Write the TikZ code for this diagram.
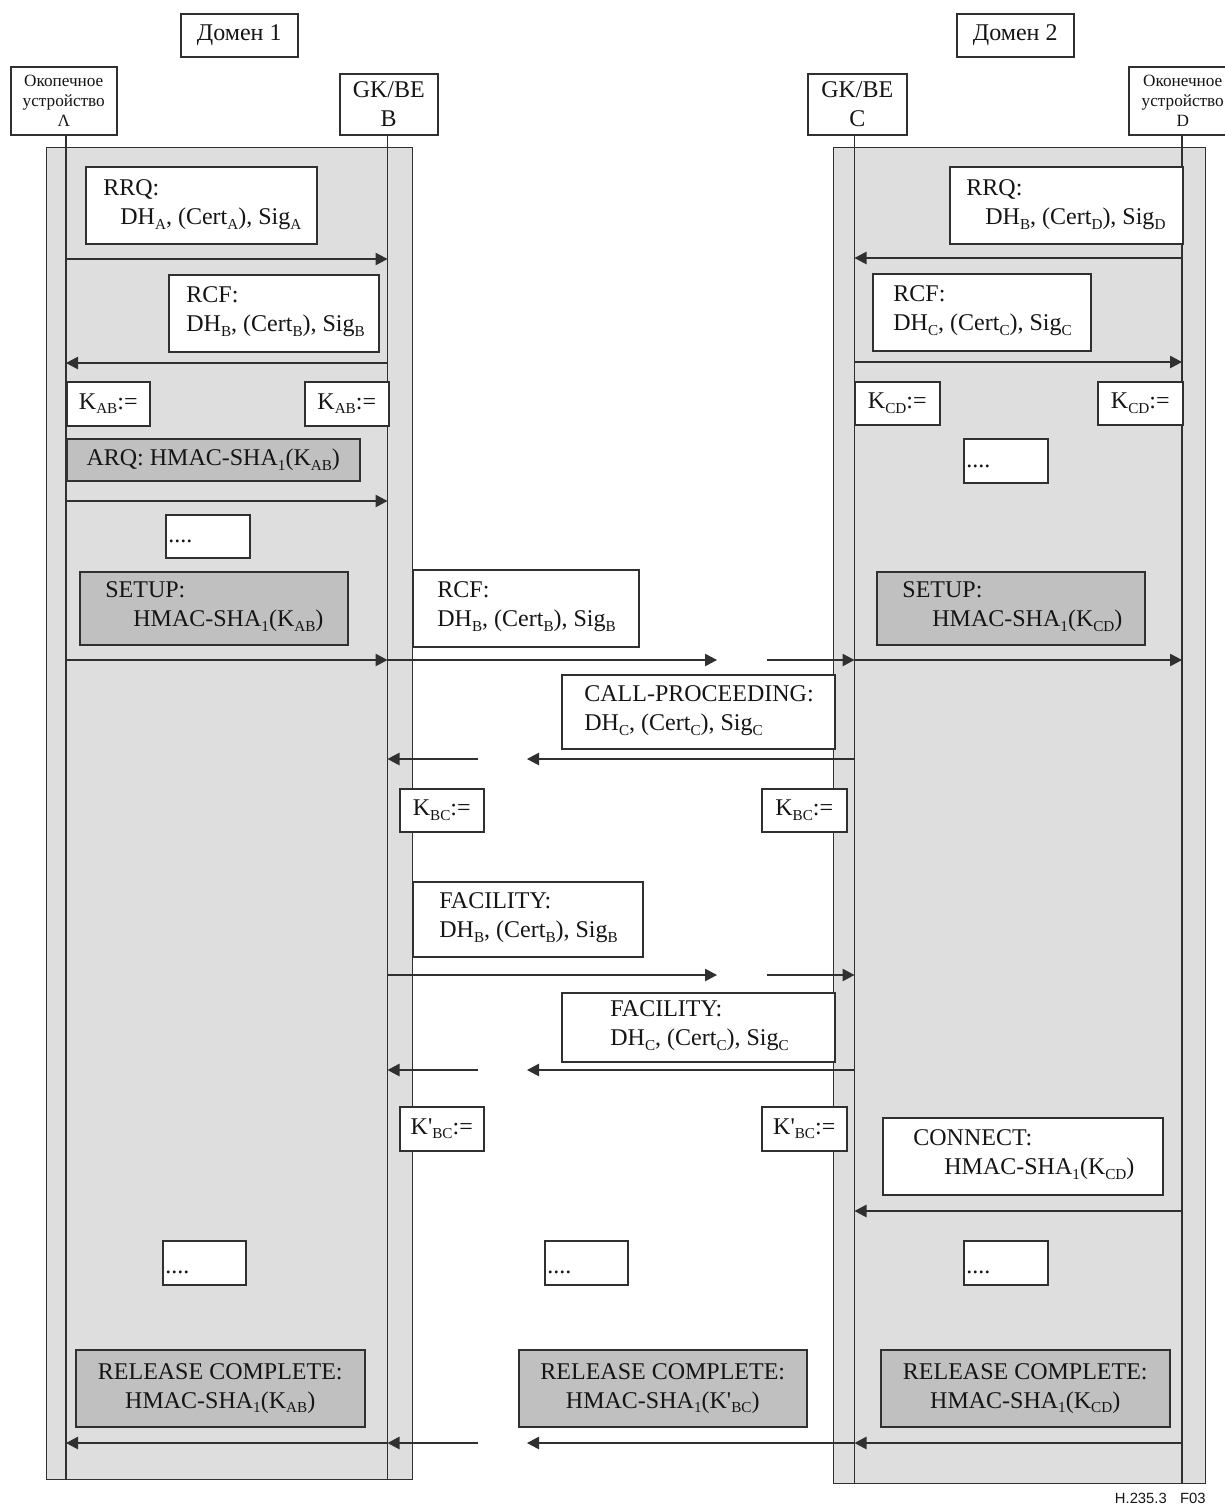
\documentclass[tikz,border=0pt]{standalone}
\usepackage{fontspec}
\setmainfont{Liberation Serif}
\newfontfamily\footsans{Liberation Sans}
\usetikzlibrary{arrows.meta}
\definecolor{panelgray}{HTML}{DEDEDE}
\definecolor{boxgray}{HTML}{C0C0C0}
\definecolor{linec}{HTML}{303030}
\definecolor{txtc}{HTML}{151515}
\newcommand\sbs[1]{\raisebox{-2.4pt}{\fontsize{7.6}{8}\selectfont #1}}
\newcommand\msgfont{\fontsize{12}{14.5}\selectfont}
\newcommand\hdrfont{\fontsize{8.6}{10.2}\selectfont}
\newcommand\bxn[7]{%
  \pgfmathsetmacro\bxw{(#5-#3)*0.5}\pgfmathsetmacro\bxh{(#6-#4)*0.5}%
  \node[#2, minimum width=\bxw pt, minimum height=\bxh pt] (#1) at (#3,#4) {#7};}
\begin{document}
\begin{tikzpicture}[x=0.5pt,y=-0.5pt,
  panel/.style={draw=linec, fill=panelgray, line width=0.6pt, anchor=north west, inner sep=0pt},
  wbox/.style={draw=linec, fill=white, line width=0.75pt, anchor=north west, inner sep=0pt, align=center, font=\msgfont, text=txtc},
  gbox/.style={wbox, fill=boxgray},
  hbox/.style={wbox, font=\hdrfont},
  txt/.style={anchor=west, inner sep=0pt, align=left, font=\msgfont, text=txtc},
  dots/.style={anchor=base west, inner sep=0pt, font=\msgfont, text=txtc},
  life/.style={draw=linec, line width=0.6pt},
  msg/.style={draw=linec, line width=0.7pt, -{Triangle[length=6pt,width=6.2pt]}}]
\useasboundingbox (0,0) rectangle (1225,1506);

% panels
\bxn{P1}{panel}{46}{147}{412}{1479}{}
\bxn{P2}{panel}{833}{147}{1205}{1483}{}

% headers
\bxn{dom1}{wbox}{180}{13}{297}{56}{Домен 1}
\bxn{dom2}{wbox}{956}{13}{1073}{56}{Домен 2}
\bxn{hA}{hbox}{10}{66}{116}{134}{Окопечное\\устройство\\Λ}
\bxn{hB}{wbox}{339}{73}{437}{134}{GK/BE\\B}
\bxn{hC}{wbox}{807}{73}{906}{134}{GK/BE\\C}
\bxn{hD}{hbox}{1128}{66}{1236}{134}{Оконечное\\устройство\\D}

% lifelines
\coordinate (LA) at (66,134);
\coordinate (LB) at (387.5,134);
\coordinate (LC) at (854.5,134);
\coordinate (LD) at (1182,134);
\coordinate (gR) at (717,0);
\coordinate (gRs) at (767,0);
\coordinate (gL) at (527,0);
\coordinate (gLs) at (478,0);
\draw[life] (LA) -- (LA |- P1.south);
\draw[life] (LB) -- (LB |- P1.south);
\draw[life] (LC) -- (LC |- 0,1484);
\draw[life] (LD) -- (LD |- P2.south);

% RRQ
\bxn{rrqA}{wbox}{85}{166}{316}{243}{}
\node[txt] (trrqA) at (103,205) {RRQ:\\\hspace*{8.5pt}DH\sbs{A}, (Cert\sbs{A}), Sig\sbs{A}};
\bxn{rrqD}{wbox}{949}{166}{1182}{243}{}
\node[txt] (trrqD) at (966,205) {RRQ:\\\hspace*{9.5pt}DH\sbs{B}, (Cert\sbs{D}), Sig\sbs{D}};
\draw[msg] (LA |- 0,259) -- (LB |- 0,259);
\draw[msg] (LD |- 0,258) -- (LC |- 0,258);

% RCF
\bxn{rcfB}{wbox}{168}{274}{378}{351}{}
\node[txt] (trcfB) at (186,312) {RCF:\\DH\sbs{B}, (Cert\sbs{B}), Sig\sbs{B}};
\bxn{rcfC}{wbox}{872}{273}{1090}{350}{}
\node[txt] (trcfC) at (893,311) {RCF:\\DH\sbs{C}, (Cert\sbs{C}), Sig\sbs{C}};
\draw[msg] (LB |- 0,363) -- (LA |- 0,363);
\draw[msg] (LC |- 0,362) -- (LD |- 0,362);

% keys
\bxn{kab1}{wbox}{66}{381}{149}{425}{K\sbs{AB}:=}
\bxn{kab2}{wbox}{304}{381}{388}{425}{K\sbs{AB}:=}
\bxn{kcd1}{wbox}{854}{381}{939}{424}{K\sbs{CD}:=}
\bxn{kcd2}{wbox}{1097}{381}{1182}{424}{K\sbs{CD}:=}

% ARQ
\bxn{arq}{gbox}{66}{438}{359}{480}{ARQ: HMAC-SHA\sbs{1}(K\sbs{AB})}
\draw[msg] (LA |- 0,501) -- (LB |- 0,501);

% dots
\bxn{dt1}{wbox}{165}{514}{249}{557}{}
\node[dots] (tdt1) at (168,542) {....};
\bxn{dt2}{wbox}{963}{438}{1047}{482}{}
\node[dots] (tdt2) at (966,467) {....};

% SETUP
\bxn{setA}{gbox}{79}{571}{347}{644}{}
\node[txt] (tsetA) at (105,607) {SETUP:\\\hspace*{14pt}HMAC-SHA\sbs{1}(K\sbs{AB})};
\bxn{rcfM}{wbox}{412}{569}{638}{646}{}
\node[txt] (trcfM) at (437,607) {RCF:\\DH\sbs{B}, (Cert\sbs{B}), Sig\sbs{B}};
\bxn{setD}{gbox}{876}{571}{1144}{644}{}
\node[txt] (tsetD) at (902,607) {SETUP:\\\hspace*{15pt}HMAC-SHA\sbs{1}(K\sbs{CD})};
\draw[msg] (LA |- 0,660) -- (LB |- 0,660);
\draw[msg] (LB |- 0,660) -- (gR |- 0,660);
\draw[msg] (gRs |- 0,660) -- (LC |- 0,660);
\draw[msg] (LC |- 0,660) -- (LD |- 0,660);

% CALL-PROCEEDING
\bxn{call}{wbox}{561}{674}{834}{748}{}
\node[txt] (tcall) at (584,711) {CALL-PROCEEDING:\\DH\sbs{C}, (Cert\sbs{C}), Sig\sbs{C}};
\draw[msg] (LC |- 0,759) -- (gL |- 0,759);
\draw[msg] (gLs |- 0,759) -- (LB |- 0,759);

\bxn{kbc1}{wbox}{399}{788}{483}{831}{K\sbs{BC}:=}
\bxn{kbc2}{wbox}{761}{788}{846}{831}{K\sbs{BC}:=}

% FACILITY
\bxn{facB}{wbox}{412}{881}{642}{956}{}
\node[txt] (tfacB) at (439,918) {FACILITY:\\DH\sbs{B}, (Cert\sbs{B}), Sig\sbs{B}};
\draw[msg] (LB |- 0,975) -- (gR |- 0,975);
\draw[msg] (gRs |- 0,975) -- (LC |- 0,975);
\bxn{facC}{wbox}{561}{992}{834}{1061}{}
\node[txt] (tfacC) at (610,1026) {FACILITY:\\DH\sbs{C}, (Cert\sbs{C}), Sig\sbs{C}};
\draw[msg] (LC |- 0,1070) -- (gL |- 0,1070);
\draw[msg] (gLs |- 0,1070) -- (LB |- 0,1070);

\bxn{kpbc1}{wbox}{399}{1106}{483}{1150}{K\textquotesingle\sbs{BC}:=}
\bxn{kpbc2}{wbox}{761}{1106}{846}{1150}{K\textquotesingle\sbs{BC}:=}

% CONNECT
\bxn{conn}{wbox}{882}{1117}{1162}{1194}{}
\node[txt] (tconn) at (913,1155) {CONNECT:\\\hspace*{15.5pt}HMAC-SHA\sbs{1}(K\sbs{CD})};
\draw[msg] (LD |- 0,1211) -- (LC |- 0,1211);

% dots lower
\bxn{dt3}{wbox}{162}{1240}{245}{1284}{}
\node[dots] (tdt3) at (165,1273) {....};
\bxn{dt4}{wbox}{544}{1240}{627}{1284}{}
\node[dots] (tdt4) at (547,1273) {....};
\bxn{dt5}{wbox}{963}{1240}{1047}{1284}{}
\node[dots] (tdt5) at (966,1273) {....};

% RELEASE COMPLETE
\bxn{relA}{gbox}{75}{1349}{364}{1426}{RELEASE COMPLETE:\\HMAC-SHA\sbs{1}(K\sbs{AB})}
\bxn{relM}{gbox}{518}{1349}{806}{1426}{RELEASE COMPLETE:\\HMAC-SHA\sbs{1}(K\textquotesingle\sbs{BC})}
\bxn{relD}{gbox}{880}{1349}{1169}{1426}{RELEASE COMPLETE:\\HMAC-SHA\sbs{1}(K\sbs{CD})}
\draw[msg] (LD |- 0,1443) -- (LC |- 0,1443);
\draw[msg] (LC |- 0,1443) -- (gL |- 0,1443);
\draw[msg] (gLs |- 0,1443) -- (LB |- 0,1443);
\draw[msg] (LB |- 0,1443) -- (LA |- 0,1443);

\node[anchor=base east, inner sep=0pt, font=\footsans\fontsize{7.4}{8}\selectfont, text=txtc] (fig) at (1206,1503) {H.235.3\hspace{0.9em}F03};
\end{tikzpicture}
\end{document}
